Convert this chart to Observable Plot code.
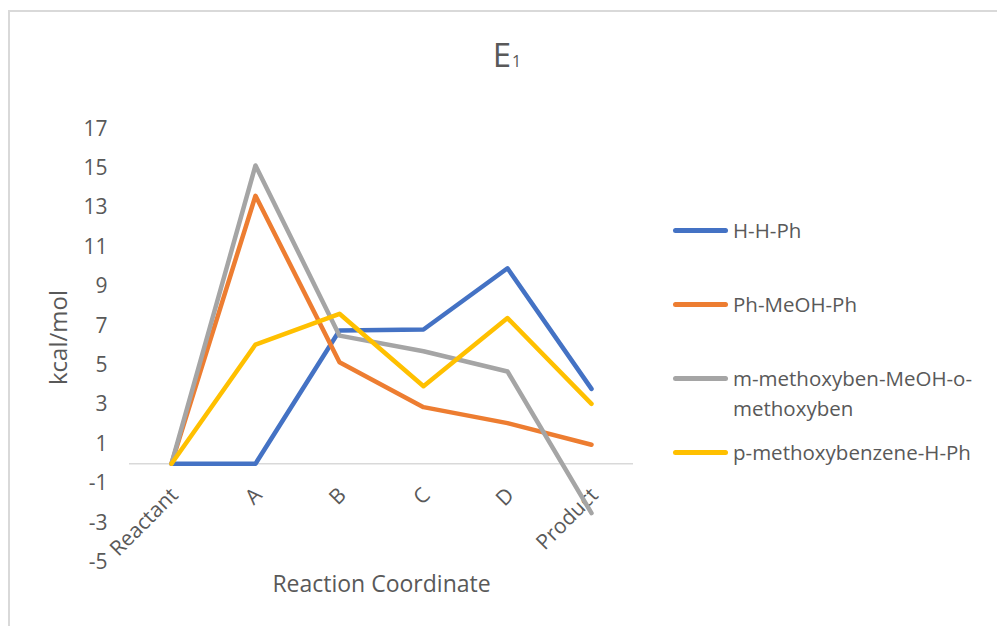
<!DOCTYPE html>
<html>
<head>
<meta charset="utf-8">
<script src="https://cdn.jsdelivr.net/npm/d3@7"></script>
<script src="https://cdn.jsdelivr.net/npm/@observablehq/plot@0.6"></script>
<style>
  html, body { margin: 0; padding: 0; background: #fff; }
  #wrap { position: relative; width: 997px; height: 626px; overflow: hidden; font-family: "Open Sans", sans-serif; color: #595959; }
  #frame { position: absolute; left: 8px; top: 10px; width: 1000px; height: 700px; border-left: 2px solid #d9d9d9; border-top: 2px solid #d9d9d9; }
  #title { position: absolute; left: 0; width: 1014px; top: 38px; text-align: center; font-size: 33px; line-height: 1; }
  #title sub { font-size: 16px; vertical-align: baseline; margin-left: 1px; }
  .leg { position: absolute; left: 673px; font-size: 20.5px; line-height: 30px; }
  .leg .sw { position: absolute; left: 0; width: 55px; height: 5px; border-radius: 3px; }
  .leg .tx { position: absolute; left: 60px; white-space: nowrap; }
  #chart { position: absolute; left: 0; top: 0; }
</style>
</head>
<body>
<div id="wrap">
  <div id="frame"></div>
  <div id="chart"></div>
  <div id="title">E<sub>1</sub></div>
  <div id="legend"></div>
</div>
<script>
const categories = ["Reactant", "A", "B", "C", "D", "Product"];
const seriesNames = ["H-H-Ph", "Ph-MeOH-Ph", "m-methoxyben-MeOH-o-methoxyben", "p-methoxybenzene-H-Ph"];
const hhph = [0, 0, 6.76, 6.81, 9.92, 3.8];
const phMeohPh = [0, 13.6, 5.15, 2.87, 2.06, 0.96];
const mMethoxy = [0, 15.14, 6.5, 5.71, 4.68, -2.51];
const pMethoxy = [0, 6.05, 7.61, 3.93, 7.39, 3.04];
const yTicks = [-5, -3, -1, 1, 3, 5, 7, 9, 11, 13, 15, 17];
const colors = ["#4472C4", "#ED7D31", "#A5A5A5", "#FFC000"];

const seriesValues = [hhph, phMeohPh, mMethoxy, pMethoxy];
const rows = [];
seriesNames.forEach((s, i) => categories.forEach((c, j) => rows.push({series: s, cat: c, value: seriesValues[i][j]})));

const plot = Plot.plot({
  width: 997,
  height: 626,
  marginLeft: 129,
  marginRight: 364,
  marginTop: 128.3,
  marginBottom: 64.3,
  style: {fontFamily: "Open Sans, sans-serif", fontSize: "21px", color: "#595959", background: "transparent"},
  x: {type: "point", domain: categories, padding: 0.5, axis: null},
  y: {domain: [-5, 17], axis: null},
  color: {domain: seriesNames, range: colors},
  marks: [
    Plot.ruleY([0], {stroke: "#d9d9d9", strokeWidth: 1.5}),
    Plot.axisY({ticks: yTicks, tickSize: 0, tickPadding: 22, label: null, fill: "#595959", fontSize: 21, tickFormat: d => String(d)}),
    Plot.text(categories, {x: d => d, y: 0, dy: 28, dx: 3, rotate: -45, textAnchor: "end", lineAnchor: "middle", fill: "#595959", fontSize: 21}),
    Plot.line(rows, {x: "cat", y: "value", z: "series", stroke: "series", strokeWidth: 4.5, strokeLinejoin: "round", strokeLinecap: "round"}),
    Plot.text(["Reaction Coordinate"], {frameAnchor: "bottom", lineAnchor: "middle", textAnchor: "middle", dy: 22, fill: "#595959", fontSize: 23}),
    Plot.text(["kcal/mol"], {frameAnchor: "left", textAnchor: "middle", lineAnchor: "middle", dx: -70, dy: -8, rotate: -90, fill: "#595959", fontSize: 24})
  ]
});
document.getElementById("chart").appendChild(plot);

const legendPos = [
  {y: 230, lines: ["H-H-Ph"]},
  {y: 304, lines: ["Ph-MeOH-Ph"]},
  {y: 378, lines: ["m-methoxyben-MeOH-o-", "methoxyben"]},
  {y: 452, lines: ["p-methoxybenzene-H-Ph"]}
];
const leg = document.getElementById("legend");
seriesNames.forEach((s, i) => {
  const d = document.createElement("div");
  d.className = "leg";
  d.style.top = legendPos[i].y + "px";
  const sw = document.createElement("div");
  sw.className = "sw";
  sw.style.background = colors[i];
  sw.style.top = "-2.5px";
  d.appendChild(sw);
  const tx = document.createElement("div");
  tx.className = "tx";
  tx.style.top = "-15px";
  tx.innerHTML = legendPos[i].lines.join("<br>");
  d.appendChild(tx);
  leg.appendChild(d);
});
</script>
</body>
</html>
